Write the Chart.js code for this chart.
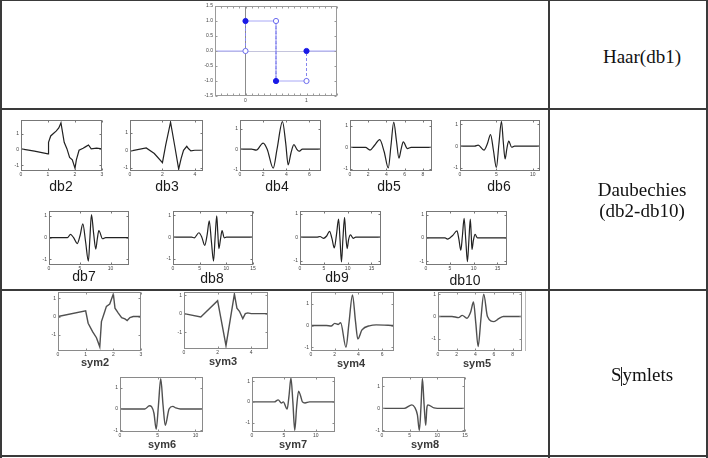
<!DOCTYPE html>
<html>
<head>
<meta charset="utf-8">
<script src="https://cdn.jsdelivr.net/npm/chart.js@4.4.1/dist/chart.umd.min.js"></script>
<style>
  html, body { margin: 0; padding: 0; background: #fff; }
  #page { position: relative; width: 708px; height: 458px; overflow: hidden; background: #fff; }
  .panel { position: absolute; }
  .cap { position: absolute; transform: translate(-50%, -50%); font-family: "Liberation Sans", Arial, sans-serif; white-space: nowrap; line-height: 1; }
  .db { font-size: 14px; color: #1a1a1a; }
  .sym { font-size: 11px; font-weight: bold; color: #3a3a3a; }
  .rule { position: absolute; background: #3a3a3a; z-index: 5; }
  .name { position: absolute; left: 563px; width: 158px; text-align: center; font-family: "Liberation Serif", "Times New Roman", serif; font-size: 19px; color: #111; line-height: 21px; z-index: 6; }
  .cur { display: inline-block; width: 0; height: 19px; border-left: 1px solid #222; vertical-align: -5px; }
</style>
</head>
<body>
<div id="page">
  <div class="rule" style="left:0;top:0;width:708px;height:1px"></div>
  <div class="rule" style="left:0;top:0;width:2px;height:458px"></div>
  <div class="rule" style="left:706px;top:0;width:2px;height:458px"></div>
  <div class="rule" style="left:548px;top:0;width:2px;height:458px"></div>
  <div class="rule" style="left:0;top:108px;width:708px;height:2px"></div>
  <div class="rule" style="left:0;top:289px;width:708px;height:2px"></div>
  <div class="rule" style="left:0;top:455px;width:708px;height:2px"></div>
  <div style="position:absolute;left:525px;top:291px;width:1px;height:60px;background:#bbb"></div>

  <div class="name" style="top:46px">Haar(db1)</div>
  <div class="name" style="top:179px">Daubechies<br>(db2-db10)</div>
  <div class="name" style="top:364px">S<span class="cur"></span>ymlets</div>
</div>
<script>
// ---- data ----
const haarX = [-0.5, 0, 0, 0.5, 0.5, 1, 1, 1.5];
const haarY = [0, 0, 1, 1, -1, -1, 0, 0];
const haarXTicks = [0, 1];
const haarYTicks = [-1.5, -1, -0.5, 0, 0.5, 1, 1.5];

const db2X = [0, 0.5, 1, 1.02, 1.1, 1.2, 1.3, 1.4, 1.48, 1.6, 1.7, 1.8, 1.9, 2.0, 2.05, 2.15, 2.3, 2.4, 2.5, 2.6, 2.8, 3];
const db2Y = [0.04, -0.1, -0.27, 0.45, 0.85, 1.0, 1.15, 1.35, 1.67, 0.45, 0.05, -0.5, -0.65, -1.18, -0.65, -0.05, 0.08, 0.18, 0.28, 0.04, 0.08, 0.04];
const db3X = [0, 1, 1.5, 2, 2.2, 2.5, 2.75, 3, 3.15, 3.3, 3.5, 3.6, 3.75, 4, 4.5];
const db3Y = [-0.05, 0.13, -0.19, -0.72, 0.29, 1.62, 0.29, -1.09, -0.48, 0, 0.23, 0.1, -0.04, 0, 0];
const db4X = [0, 1, 1.4, 2.0, 2.35, 2.87, 3.2, 3.67, 3.95, 4.16, 4.4, 4.66, 4.9, 5.1, 5.4, 7];
const db4Y = [0, 0, -0.05, 0.3, 0, -0.93, 0, 1.35, 0.3, -0.77, -0.2, 0.22, 0.0, -0.1, 0, 0];
const db5X = [0, 1.7, 2.2, 2.7, 3.26, 3.75, 4.2, 4.5, 4.8, 5.1, 5.37, 5.6, 5.85, 6.3, 6.7, 9];
const db5Y = [0, 0, -0.12, 0.1, 0.36, -0.2, -0.95, 0.1, 1.17, 0.3, -0.5, -0.1, 0.26, -0.05, 0, 0];
const db6X = [0, 2, 2.5, 3.3, 3.75, 4.2, 4.6, 5.0, 5.35, 5.7, 5.95, 6.2, 6.45, 6.7, 7.1, 7.5, 11];
const db6Y = [0, 0, 0.05, -0.18, 0.1, 0.53, -0.2, -0.98, 0.1, 1.14, 0.2, -0.59, -0.1, 0.23, -0.05, 0, 0];
const db7X = [0, 3, 3.5, 4.0, 4.6, 5.05, 5.5, 5.95, 6.4, 6.65, 6.9, 7.25, 7.6, 7.85, 8.1, 8.7, 9.2, 13];
const db7Y = [0, 0, 0.15, 0, -0.27, 0.1, 0.64, -0.2, -1.08, 0, 1.06, 0.2, -0.53, -0.05, 0.33, -0.05, 0, 0];
const db8X = [0, 3.5, 4.0, 4.85, 5.4, 5.95, 6.4, 6.8, 7.2, 7.6, 7.9, 8.2, 8.4, 8.6, 8.9, 9.2, 9.6, 10, 15];
const db8Y = [0, 0, -0.03, 0.2, 0, -0.38, 0.1, 0.75, -0.2, -1.1, 0, 0.98, 0.2, -0.53, -0.1, 0.3, -0.03, 0, 0];
const db9X = [0, 3.5, 4.2, 4.9, 5.6, 6.2, 6.7, 7.2, 7.65, 8.1, 8.4, 8.7, 9.0, 9.35, 9.6, 9.9, 10.2, 10.6, 11.15, 11.7, 17];
const db9Y = [0, 0, 0.03, -0.05, 0.05, 0.25, -0.05, -0.46, 0.1, 0.77, -0.1, -1.06, -0.1, 0.85, 0.1, -0.49, -0.1, 0.1, -0.05, 0, 0];
const db10X = [0, 4, 4.5, 5.0, 5.6, 6.5, 6.9, 7.3, 7.65, 8.0, 8.35, 8.7, 9.0, 9.3, 9.5, 9.65, 9.95, 10.3, 10.8, 17];
const db10Y = [0, 0, -0.05, 0, 0.1, 0.3, -0.05, -0.53, 0.1, 0.84, -0.1, -1.02, -0.1, 0.8, 0.1, -0.5, -0.1, 0.15, 0, 0];

const sym2X = [0, 1, 1.09, 1.25, 1.39, 1.51, 1.57, 1.69, 1.75, 1.87, 2.0, 2.06, 2.18, 2.3, 2.42, 2.5, 2.6, 2.72, 3];
const sym2Y = [0, 0.31, -0.37, -0.83, -1.17, -1.67, -0.28, 0.28, 0.56, 0.69, 1.24, 0.46, 0.19, -0.06, -0.13, -0.22, -0.06, 0, 0];
const sym3X = [0, 1, 2, 2.5, 3, 3.15, 3.3, 3.5, 3.65, 3.8, 4, 5];
const sym3Y = [0, -0.18, 0.7, -1.73, 1.06, 0.3, 0.13, -0.27, 0, 0.04, 0, 0];
const sym4X = [0, 1.3, 1.7, 2.0, 2.3, 2.5, 2.95, 3.2, 3.5, 3.75, 3.95, 4.3, 5, 5.5, 7];
const sym4Y = [0, 0, -0.02, 0.1, 0.05, 0.13, -0.99, 0.1, 1.4, 0.2, -0.61, -0.2, 0, 0.03, 0];
const sym5X = [0, 1.5, 2.2, 2.6, 3.1, 3.5, 3.8, 4.05, 4.3, 4.6, 4.9, 5.3, 6.0, 6.5, 7, 9];
const sym5Y = [0, 0, -0.05, 0.05, -0.08, 0.2, 0.65, -0.3, -1.35, -0.1, 1.0, 0, -0.23, -0.1, 0, 0];
const sym6X = [0, 3.3, 3.9, 4.2, 4.5, 4.8, 5.1, 5.4, 5.7, 6.0, 6.5, 7, 7.4, 8, 11];
const sym6Y = [0, 0, 0.15, 0.1, -0.2, -0.95, 0.2, 1.42, 0.2, -0.77, 0, 0.12, 0.05, 0, 0];
const sym7X = [0, 3.5, 4.1, 4.6, 4.9, 5.5, 5.8, 6.1, 6.4, 6.7, 7.0, 7.3, 7.6, 7.9, 8.3, 9, 13];
const sym7Y = [0, 0, 0.1, -0.05, 0, -0.35, 0.3, 1.15, 0, -1.37, -0.2, 0.52, 0.3, 0, -0.05, 0, 0];
const sym8X = [0, 4, 5.4, 5.9, 6.4, 6.75, 7.05, 7.3, 7.6, 7.9, 8.1, 8.3, 9.4, 10, 15];
const sym8Y = [0, 0, 0.16, 0.05, -0.3, -1.0, 0.1, 1.35, 0.2, -0.77, 0, 0.16, 0.02, 0, 0];

const ticks0to3 = [0, 1, 2, 3];
const ticksBy2to4 = [0, 2, 4];
const ticksBy2to6 = [0, 2, 4, 6];
const ticksBy2to8 = [0, 2, 4, 6, 8];
const ticksBy5to10 = [0, 5, 10];
const ticksBy5to15 = [0, 5, 10, 15];
const unitTicks = [-1, 0, 1];

// ---- layout: plot box [left, top, right, bottom], axis ranges, caption position ----
const panels = [
  { name: 'db2', xs: db2X, ys: db2Y, box: [21, 119, 102, 171], xr: [0, 3], yr: [-1.35, 1.85], xt: ticks0to3, cap: [61, 186], jag: true },
  { name: 'db3', xs: db3X, ys: db3Y, box: [130, 119, 203, 171], xr: [0, 4.5], yr: [-1.2, 1.75], xt: ticksBy2to4, cap: [167, 186], jag: true },
  { name: 'db4', xs: db4X, ys: db4Y, box: [240, 119, 321, 171], xr: [0, 7], yr: [-1.07, 1.43], xt: ticksBy2to6, cap: [277, 186] },
  { name: 'db5', xs: db5X, ys: db5Y, box: [350, 119, 432, 171], xr: [0, 9], yr: [-1.09, 1.27], xt: ticksBy2to8, cap: [389, 186] },
  { name: 'db6', xs: db6X, ys: db6Y, box: [460, 119, 540, 171], xr: [0, 11], yr: [-1.14, 1.2], xt: ticksBy5to10, cap: [499, 186] },
  { name: 'db7', xs: db7X, ys: db7Y, box: [49, 210, 129, 265], xr: [0, 13], yr: [-1.26, 1.23], xt: ticksBy5to10, cap: [84, 276] },
  { name: 'db8', xs: db8X, ys: db8Y, box: [173, 210, 253, 265], xr: [0, 15], yr: [-1.28, 1.2], xt: ticksBy5to15, cap: [212, 278] },
  { name: 'db9', xs: db9X, ys: db9Y, box: [300, 210, 381, 265], xr: [0, 17], yr: [-1.19, 1.12], xt: ticksBy5to15, cap: [337, 277] },
  { name: 'db10', xs: db10X, ys: db10Y, box: [426, 210, 507, 265], xr: [0, 17], yr: [-1.16, 1.15], xt: ticksBy5to15, cap: [465, 280] },
  { name: 'sym2', xs: sym2X, ys: sym2Y, box: [58, 291, 141, 351], xr: [0, 3], yr: [-1.9, 1.35], xt: ticks0to3, cap: [95, 362], jag: true, sym: true },
  { name: 'sym3', xs: sym3X, ys: sym3Y, box: [184, 291, 268, 349], xr: [0, 5], yr: [-1.91, 1.17], xt: ticksBy2to4, cap: [223, 361], jag: true, sym: true },
  { name: 'sym4', xs: sym4X, ys: sym4Y, box: [311, 291, 394, 351], xr: [0, 7], yr: [-1.16, 1.53], xt: ticksBy2to6, cap: [351, 363], sym: true },
  { name: 'sym5', xs: sym5X, ys: sym5Y, box: [438, 291, 522, 351], xr: [0, 9], yr: [-1.55, 1.1], xt: ticksBy2to8, cap: [477, 363], sym: true },
  { name: 'sym6', xs: sym6X, ys: sym6Y, box: [120, 376, 203, 432], xr: [0, 11], yr: [-1.08, 1.5], xt: ticksBy5to10, cap: [162, 444], sym: true },
  { name: 'sym7', xs: sym7X, ys: sym7Y, box: [252, 376, 335, 432], xr: [0, 13], yr: [-1.45, 1.2], xt: ticksBy5to10, cap: [293, 444], sym: true },
  { name: 'sym8', xs: sym8X, ys: sym8Y, box: [382, 376, 465, 432], xr: [0, 15], yr: [-1.07, 1.42], xt: ticksBy5to15, cap: [425, 444], sym: true }
];

const page = document.getElementById('page');

// MATLAB-like box around the plot with small inward ticks on every side
const framePlugin = {
  id: 'frame',
  afterDatasetsDraw(chart, args, o) {
    const { ctx, chartArea: a } = chart;
    const L = Math.round(a.left) + 0.5, R = Math.round(a.right) - 0.5;
    const T = Math.round(a.top) + 0.5, B = Math.round(a.bottom) - 0.5;
    const xs = chart.scales.x, ys = chart.scales.y;
    const tl = o.tick || 2;
    ctx.save();
    ctx.strokeStyle = o.color || '#777';
    ctx.lineWidth = 1;
    ctx.strokeRect(L, T, R - L, B - T);
    ctx.beginPath();
    let xv = xs.ticks.map(t => t.value);
    if (o.minor) {
      xv = [];
      for (let v = xs.min; v <= xs.max + 1e-9; v += o.minor) xv.push(v);
    }
    xv.forEach(v => {
      const px = Math.round(xs.getPixelForValue(v)) + 0.5;
      ctx.moveTo(px, B); ctx.lineTo(px, B - tl);
      ctx.moveTo(px, T); ctx.lineTo(px, T + tl);
    });
    ys.ticks.forEach(t => {
      const py = Math.round(ys.getPixelForValue(t.value)) + 0.5;
      ctx.moveTo(L, py); ctx.lineTo(L + tl, py);
      ctx.moveTo(R, py); ctx.lineTo(R - tl, py);
    });
    ctx.stroke();
    ctx.restore();
  }
};

function makeCanvas(box, yw, xh, pt, pr) {
  const w = box[2] - box[0], h = box[3] - box[1];
  const div = document.createElement('div');
  div.className = 'panel';
  div.style.left = (box[0] - yw) + 'px';
  div.style.top = (box[1] - pt) + 'px';
  const cv = document.createElement('canvas');
  cv.width = yw + w + pr;
  cv.height = pt + h + xh;
  cv.style.width = cv.width + 'px';
  cv.style.height = cv.height + 'px';
  div.appendChild(cv);
  page.appendChild(div);
  return cv;
}

function axis(min, max, ticks, fit, pad, fmt, grid) {
  return {
    type: 'linear', min: min, max: max,
    afterBuildTicks: s => { s.ticks = ticks.map(v => ({ value: v })); },
    afterFit: fit,
    border: { display: false },
    grid: grid || { display: false, drawTicks: false },
    ticks: {
      autoSkip: false, maxRotation: 0, padding: pad,
      color: '#444', font: { size: 5, family: 'Liberation Sans' },
      callback: fmt || (v => String(v))
    }
  };
}

panels.forEach(p => {
  const yw = 9, xh = 8, pt = 4, pr = 5;
  const cv = makeCanvas(p.box, yw, xh, pt, pr);
  new Chart(cv, {
    type: 'line',
    data: {
      datasets: [{
        data: p.xs.map((x, i) => ({ x: x, y: p.ys[i] })),
        borderColor: p.sym ? '#505050' : '#222',
        borderWidth: p.sym ? 1.4 : 1.2,
        pointRadius: 0,
        tension: p.jag ? 0 : 0.4,
        cubicInterpolationMode: p.jag ? 'default' : 'monotone'
      }]
    },
    options: {
      responsive: false, animation: false, devicePixelRatio: 1,
      layout: { padding: { top: pt, right: pr, left: 0, bottom: 0 } },
      plugins: { legend: { display: false }, tooltip: { enabled: false }, frame: { color: p.sym ? '#8a8a8a' : '#777' } },
      scales: {
        x: axis(p.xr[0], p.xr[1], p.xt, s => { s.height = xh; }, 1),
        y: axis(p.yr[0], p.yr[1], unitTicks, s => { s.width = yw; }, 2)
      }
    },
    plugins: [framePlugin]
  });
  const c = document.createElement('div');
  c.className = 'cap ' + (p.sym ? 'sym' : 'db');
  c.style.left = p.cap[0] + 'px';
  c.style.top = p.cap[1] + 'px';
  c.textContent = p.name;
  page.appendChild(c);
});

// Haar wavelet, drawn as a stairs plot with markers
(function () {
  const box = [215, 6, 337, 96];
  const yw = 13, xh = 10, pt = 5, pr = 6;
  const cv = makeCanvas(box, yw, xh, pt, pr);
  const zeroGrid = col => ({ display: true, drawTicks: false, lineWidth: 1,
    color: c => (c.tick && c.tick.value === 0) ? col : 'rgba(0,0,0,0)' });
  new Chart(cv, {
    type: 'line',
    data: {
      datasets: [{
        data: haarX.map((x, i) => ({ x: x, y: haarY[i] })),
        borderColor: '#a0a0f4',
        borderWidth: 1,
        tension: 0,
        segment: {
          borderDash: c => (c.p0DataIndex % 2 === 1) ? [3, 2] : undefined,
          borderColor: c => (c.p0DataIndex % 2 === 1) ? '#8585ee' : '#a8a8f6'
        },
        pointRadius: c => (c.dataIndex === 0 || c.dataIndex === haarX.length - 1) ? 0 : 2.6,
        pointBorderWidth: 1,
        pointBorderColor: c => (c.dataIndex % 2 === 0) ? '#1a1ae6' : '#6a6aee',
        pointBackgroundColor: c => (c.dataIndex % 2 === 0) ? '#1a1ae6' : '#ffffff'
      }]
    },
    options: {
      responsive: false, animation: false, devicePixelRatio: 1,
      layout: { padding: { top: pt, right: pr, left: 0, bottom: 0 } },
      plugins: { legend: { display: false }, tooltip: { enabled: false }, frame: { color: '#9a9a9a', minor: 0.1 } },
      scales: {
        x: axis(-0.5, 1.5, haarXTicks, s => { s.height = xh; }, 2, v => String(v), zeroGrid('#8c8c8c')),
        y: axis(-1.5, 1.5, haarYTicks, s => { s.width = yw; }, 2, v => v.toFixed(1), zeroGrid('#c4c4dc'))
      }
    },
    plugins: [framePlugin]
  });
})();
</script>
</body>
</html>
